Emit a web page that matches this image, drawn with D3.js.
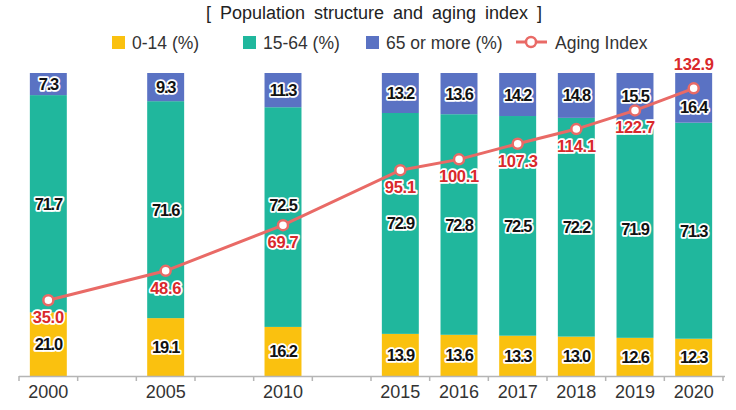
<!DOCTYPE html>
<html>
<head>
<meta charset="utf-8">
<script src="https://cdn.jsdelivr.net/npm/d3@7"></script>
<style>
  body { margin: 0; background: #fff; }
  svg { font-family: "Liberation Sans", Arial, sans-serif; }
</style>
</head>
<body>
<svg id="chart" width="736" height="410"></svg>
<script>
// data
const years = ["2000", "2005", "2010", "2015", "2016", "2017", "2018", "2019", "2020"];
// slots on the axis; the empty ones keep the 5-year gaps
const slots = ["2000", "_a", "2005", "_b", "2010", "_c", "2015", "2016", "2017", "2018", "2019", "2020"];
const young = [21.0, 19.1, 16.2, 13.9, 13.6, 13.3, 13.0, 12.6, 12.3];
const working = [71.7, 71.6, 72.5, 72.9, 72.8, 72.5, 72.2, 71.9, 71.3];
const old = [7.3, 9.3, 11.3, 13.2, 13.6, 14.2, 14.8, 15.5, 16.4];
const aging = [35.0, 48.6, 69.7, 95.1, 100.1, 107.3, 114.1, 122.7, 132.9];

const keys = ["young", "working", "old"];
const colors = { young: "#FAC10F", working: "#20B79D", old: "#5A72C3" };
const lineColor = "#E96A66";

const svg = d3.select("#chart");
const plotTop = 73, plotBottom = 376;

const x = d3.scaleBand().domain(slots).range([19, 723]).paddingInner(0.37).paddingOuter(0.185);
const y = d3.scaleLinear().domain([0, 100]).range([plotBottom, plotTop]);
const yA = d3.scaleLinear().domain([0, 140]).range([plotBottom, plotTop]);

const rows = years.map((yr, i) => ({ year: yr, young: young[i], working: working[i], old: old[i], aging: aging[i] }));
const series = d3.stack().keys(keys)(rows);

// bars
const g = svg.append("g");
series.forEach(s => {
  g.selectAll(null).data(s).enter().append("rect")
    .attr("x", d => x(d.data.year))
    .attr("y", d => y(d[1]))
    .attr("width", x.bandwidth())
    .attr("height", d => y(d[0]) - y(d[1]))
    .attr("fill", colors[s.key]);
});

// axis
const step = x.step();
svg.append("line").attr("x1", 19).attr("x2", 725).attr("y1", plotBottom + 0.5).attr("y2", plotBottom + 0.5)
  .attr("stroke", "#b5b5b5").attr("stroke-width", 1.5);
svg.append("g").selectAll("line").data(d3.range(slots.length + 1)).enter().append("line")
  .attr("x1", i => 19 + i * step).attr("x2", i => 19 + i * step)
  .attr("y1", plotBottom).attr("y2", plotBottom + 5)
  .attr("stroke", "#b5b5b5").attr("stroke-width", 1.5);
svg.append("g").selectAll("text").data(years).enter().append("text")
  .attr("x", d => x(d) + x.bandwidth() / 2)
  .attr("y", 398)
  .attr("text-anchor", "middle")
  .attr("font-size", 18)
  .attr("fill", "#333")
  .text(d => d);

// bar labels (a few nudged off the line, as in the original)
const nudge = { "working-2010": -12, "old-2020": 9 };
series.forEach(s => {
  svg.append("g").selectAll("text").data(s).enter().append("text")
    .attr("x", d => x(d.data.year) + x.bandwidth() / 2)
    .attr("y", d => (y(d[0]) + y(d[1])) / 2 + 6 + (nudge[s.key + "-" + d.data.year] || 0))
    .attr("text-anchor", "middle")
    .attr("font-size", 16.5)
    .attr("font-weight", "bold")
    .attr("letter-spacing", -1.2)
    .attr("fill", "#111")
    .attr("stroke", "#fff").attr("stroke-width", 3.5).attr("stroke-linejoin", "round").attr("paint-order", "stroke")
    .text(d => (d[1] - d[0]).toFixed(1));
});

// aging index line
const cx = d => x(d.year) + x.bandwidth() / 2;
svg.append("path").datum(rows)
  .attr("d", d3.line().x(cx).y(d => yA(d.aging)))
  .attr("fill", "none").attr("stroke", lineColor).attr("stroke-width", 3);
svg.append("g").selectAll("circle").data(rows).enter().append("circle")
  .attr("cx", cx).attr("cy", d => yA(d.aging)).attr("r", 5)
  .attr("fill", "#fff").attr("stroke", lineColor).attr("stroke-width", 2.5);
svg.append("g").selectAll("text").data(rows).enter().append("text")
  .attr("x", cx)
  .attr("y", (d, i) => yA(d.aging) + (i === rows.length - 1 ? -18 : 23))
  .attr("text-anchor", "middle")
  .attr("font-size", 16.5)
  .attr("font-weight", "bold")
  .attr("letter-spacing", -0.3)
  .attr("fill", "#D9282B")
  .attr("stroke", "#fff").attr("stroke-width", 3.5).attr("stroke-linejoin", "round").attr("paint-order", "stroke")
  .text(d => d.aging.toFixed(1));

// title
svg.append("text").attr("x", 374).attr("y", 19).attr("text-anchor", "middle")
  .attr("font-size", 18).attr("fill", "#222").attr("word-spacing", 4)
  .text("[ Population structure and aging index ]");

// legend
const legend = [
  { label: "0-14 (%)", color: colors.young, x: 112 },
  { label: "15-64 (%)", color: colors.working, x: 243 },
  { label: "65 or more (%)", color: colors.old, x: 366 }
];
const lg = svg.append("g");
legend.forEach(l => {
  lg.append("rect").attr("x", l.x).attr("y", 36).attr("width", 13).attr("height", 13).attr("fill", l.color);
  lg.append("text").attr("x", l.x + 20).attr("y", 49).attr("font-size", 17.5).attr("fill", "#333").text(l.label);
});
lg.append("line").attr("x1", 516).attr("x2", 547).attr("y1", 42).attr("y2", 42)
  .attr("stroke", lineColor).attr("stroke-width", 3);
lg.append("circle").attr("cx", 531).attr("cy", 42).attr("r", 5)
  .attr("fill", "#fff").attr("stroke", lineColor).attr("stroke-width", 2.5);
lg.append("text").attr("x", 555).attr("y", 49).attr("font-size", 17.5).attr("fill", "#333").text("Aging Index");
</script>
</body>
</html>
